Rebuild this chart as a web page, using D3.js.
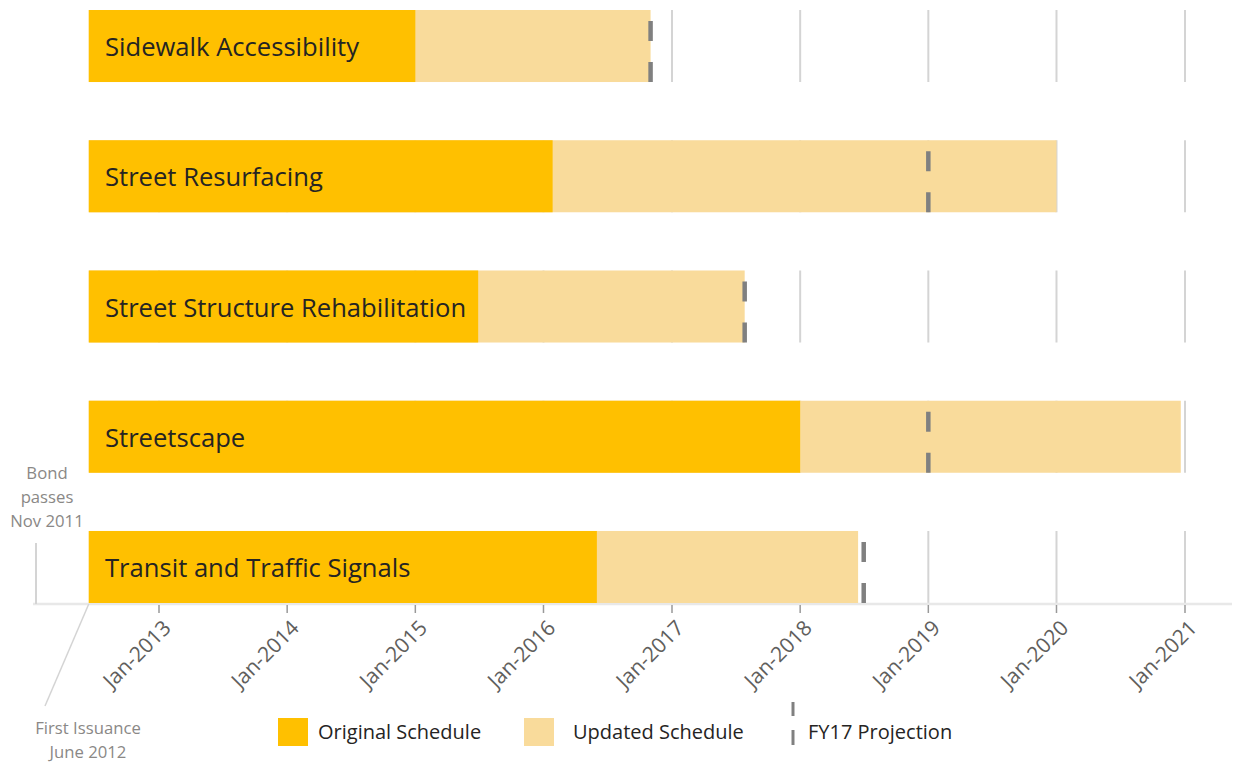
<!DOCTYPE html>
<html>
<head>
<meta charset="utf-8">
<script src="https://cdnjs.cloudflare.com/ajax/libs/d3/7.8.5/d3.min.js"></script>
<style>
  body { margin: 0; background: #fff; }
  svg text { font-family: "Open Sans", "Noto Sans", sans-serif; }
</style>
</head>
<body>
<div id="chart"></div>
<script>

// program rows, top to bottom
var programs = ["Sidewalk Accessibility", "Street Resurfacing", "Street Structure Rehabilitation",
                "Streetscape", "Transit and Traffic Signals"];

// all schedules start at first issuance
var startDate = "2012-06-15";
var originalEnd = ["2015-01-01", "2016-01-27", "2015-06-29", "2018-01-01", "2016-06-01"];
var updatedEnd = ["2016-11-01", "2020-01-01", "2017-07-27", "2020-12-20", "2018-06-15"];
var projection = ["2016-11-01", "2019-01-01", "2017-07-27", "2019-01-01", "2018-07-01"];

var tickYears = [2013, 2014, 2015, 2016, 2017, 2018, 2019, 2020, 2021];
var legendLabels = ["Original Schedule", "Updated Schedule", "FY17 Projection"];

var parse = d3.timeParse("%Y-%m-%d");

var width = 1235, height = 763;

var colOrig = "#FFC000", colUpd = "#F9DB9B", colProj = "#808080", colGrid = "#D4D4D4";

var svg = d3.select("#chart").append("svg").attr("width", width).attr("height", height);

var x = d3.scaleTime()
          .domain([new Date(2013, 0, 1), new Date(2021, 0, 1)])
          .range([159, 1185]);

var y = d3.scaleBand().domain(programs).range([10, 603]).paddingInner(0.447);

var rows = programs.map(function(p, i) {
  return { name: p, start: parse(startDate), orig: parse(originalEnd[i]),
           upd: parse(updatedEnd[i]), proj: parse(projection[i]) };
});
var ticks = tickYears.map(function(yr) { return new Date(yr, 0, 1); });

// gridline segments in each row
rows.forEach(function(r) {
  svg.append("g").selectAll("line").data(ticks).enter().append("line")
     .attr("x1", function(d) { return x(d); }).attr("x2", function(d) { return x(d); })
     .attr("y1", y(r.name)).attr("y2", y(r.name) + y.bandwidth())
     .style("stroke", colGrid).style("stroke-width", 2);
});

// axis line + ticks
var axisY = 604;
svg.append("line").attr("x1", 33).attr("x2", 1232).attr("y1", axisY).attr("y2", axisY)
   .style("stroke", "#E8E8E8").style("stroke-width", 2.5);

svg.append("g").selectAll("line").data(ticks).enter().append("line")
   .attr("x1", function(d) { return x(d); }).attr("x2", function(d) { return x(d); })
   .attr("y1", axisY + 1).attr("y2", axisY + 9)
   .style("stroke", "#999").style("stroke-width", 1.5);

svg.append("g").selectAll("text").data(ticks).enter().append("text")
   .attr("transform", function(d) { return "translate(" + (x(d) + 8) + "," + (axisY + 20) + ") rotate(-45)"; })
   .attr("text-anchor", "end")
   .attr("dy", "0.35em")
   .style("font-size", "21px").style("fill", "#605E5C")
   .text(d3.timeFormat("Jan-%Y"));

// bars
var g = svg.append("g");
g.selectAll(".upd").data(rows).enter().append("rect")
 .attr("x", function(d) { return x(d.start); })
 .attr("y", function(d) { return y(d.name); })
 .attr("width", function(d) { return x(d.upd) - x(d.start); })
 .attr("height", y.bandwidth())
 .style("fill", colUpd);

g.selectAll(".orig").data(rows).enter().append("rect")
 .attr("x", function(d) { return x(d.start); })
 .attr("y", function(d) { return y(d.name); })
 .attr("width", function(d) { return x(d.orig) - x(d.start); })
 .attr("height", y.bandwidth())
 .style("fill", colOrig);

// projection markers: two dashes per row
rows.forEach(function(r) {
  var top = y(r.name), bw = y.bandwidth(), px = x(r.proj);
  [[top + 11, top + 31], [top + 52, top + bw]].forEach(function(s) {
    svg.append("line").attr("x1", px).attr("x2", px).attr("y1", s[0]).attr("y2", s[1])
       .style("stroke", colProj).style("stroke-width", 4.5);
  });
});

// row labels
g.selectAll(".lbl").data(rows).enter().append("text")
 .attr("x", 105)
 .attr("y", function(d) { return y(d.name) + y.bandwidth() / 2; })
 .attr("dy", "0.4em")
 .style("font-size", "25.6px").style("fill", "#252423")
 .text(function(d) { return d.name; });

// annotations
svg.append("line").attr("x1", 36).attr("x2", 36).attr("y1", 543).attr("y2", axisY)
   .style("stroke", colGrid).style("stroke-width", 2);
svg.append("line").attr("x1", x(parse(startDate))).attr("x2", 45).attr("y1", axisY).attr("y2", 706)
   .style("stroke", colGrid).style("stroke-width", 1.5);

var ann = svg.append("g").style("font-size", "16.7px").style("fill", "#8A8886").attr("text-anchor", "middle");
["Bond", "passes", "Nov 2011"].forEach(function(t, i) {
  ann.append("text").attr("x", 47).attr("y", 479 + i * 24).text(t);
});
["First Issuance", "June 2012"].forEach(function(t, i) {
  ann.append("text").attr("x", 88).attr("y", 734 + i * 24).text(t);
});

// legend
var leg = svg.append("g").style("font-size", "20px").style("fill", "#252423");
leg.append("rect").attr("x", 278).attr("y", 718).attr("width", 30).attr("height", 28).style("fill", colOrig);
leg.append("text").attr("x", 318).attr("y", 732).attr("dy", "0.35em").text(legendLabels[0]);
leg.append("rect").attr("x", 524).attr("y", 718).attr("width", 30).attr("height", 28).style("fill", colUpd);
leg.append("text").attr("x", 573).attr("y", 732).attr("dy", "0.35em").text(legendLabels[1]);
[[702, 716], [730, 745]].forEach(function(s) {
  leg.append("line").attr("x1", 793).attr("x2", 793).attr("y1", s[0]).attr("y2", s[1])
     .style("stroke", colProj).style("stroke-width", 3);
});
leg.append("text").attr("x", 808).attr("y", 732).attr("dy", "0.35em").text(legendLabels[2]);

</script>
</body>
</html>
